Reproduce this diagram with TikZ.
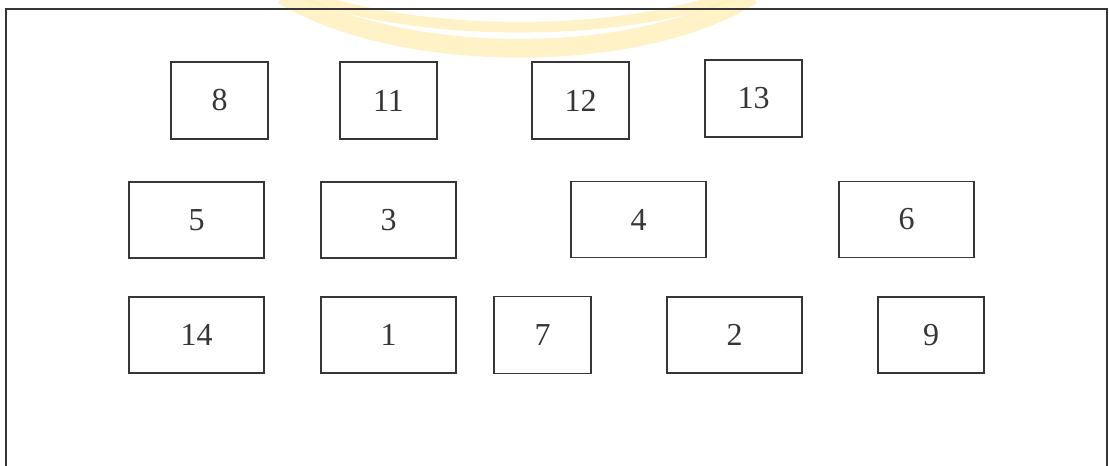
\documentclass[tikz,border=0pt]{standalone}
\usepackage{fontspec}
\setmainfont{Liberation Serif}
\definecolor{linegray}{HTML}{363636}
\definecolor{wmyellow}{HTML}{FFEFB8}
\tikzset{
  numbox/.style={draw=linegray, line width=1.4pt, inner sep=0pt, text=linegray,
    font=\fontsize{24}{27}\selectfont},
  wide/.style={numbox, minimum width=101.25pt, minimum height=57pt},
  narrow/.style={numbox, minimum width=72.75pt, minimum height=57.75pt},
}
\begin{document}
\begin{tikzpicture}[x=0.75pt,y=-0.75pt]
\useasboundingbox (0,0) rectangle (1109,465);
% watermark
\draw[wmyellow, line width=14pt, opacity=0.8] (283,-5) .. controls (400,66) and (640,66) .. (752,-5);
\draw[wmyellow, line width=8pt, opacity=0.8] (305,-5) .. controls (420,38) and (620,38) .. (732,-5);
% frame
\draw[linegray, line width=1.5pt] (6,470) -- (6,9) -- (1107,9) -- (1107,470);
% row 1
\node[narrow] (n8)  at (219.5,100.5) {8};
\node[narrow] (n11) at (388.5,100.5) {11};
\node[narrow] (n12) at (580.5,100.5) {12};
\node[narrow] (n13) at (753.5,98.5) {13};
% row 2
\node[wide] (n5) at (196.5,220) {5};
\node[wide] (n3) at (388.5,220) {3};
\node[wide] (n4) at (638.5,219.5) {4};
\node[wide] (n6) at (906.5,219.5) {6};
% row 3
\node[wide] (n14) at (196.5,335) {14};
\node[wide] (n1)  at (388.5,335) {1};
\node[narrow] (n7) at (542.5,335) {7};
\node[wide] (n2)  at (734.5,335) {2};
\node[numbox, minimum width=79.5pt, minimum height=57pt] (n9) at (931,335) {9};
\end{tikzpicture}
\end{document}
